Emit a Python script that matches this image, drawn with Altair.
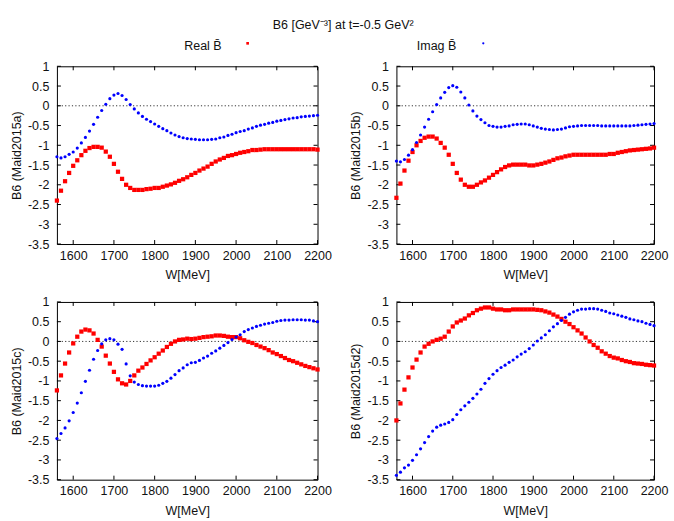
import altair as alt
import pandas as pd

W = list(range(1560, 2201, 10))

A_REAL = [-2.40, -2.15, -1.91, -1.70, -1.52, -1.38, -1.25, -1.14, -1.07, -1.04,
          -1.04, -1.06, -1.16, -1.29, -1.47, -1.67, -1.85, -2.00, -2.08, -2.13,
          -2.13, -2.13, -2.11, -2.10, -2.08, -2.08, -2.05, -2.02, -1.99, -1.95,
          -1.90, -1.86, -1.81, -1.75, -1.70, -1.64, -1.59, -1.54, -1.47, -1.41,
          -1.36, -1.32, -1.27, -1.25, -1.22, -1.19, -1.17, -1.15, -1.12, -1.12,
          -1.11, -1.10, -1.10, -1.10, -1.10, -1.10, -1.10, -1.10, -1.10, -1.10,
          -1.10, -1.10, -1.10, -1.10, -1.11]
A_IMAG = [-1.29, -1.32, -1.29, -1.23, -1.17, -1.07, -0.94, -0.80, -0.64, -0.47,
          -0.29, -0.12, 0.04, 0.18, 0.27, 0.31, 0.26, 0.16, 0.03, -0.08,
          -0.18, -0.27, -0.34, -0.40, -0.46, -0.52, -0.58, -0.63, -0.69, -0.74,
          -0.78, -0.81, -0.83, -0.84, -0.85, -0.86, -0.86, -0.86, -0.85, -0.84,
          -0.81, -0.79, -0.75, -0.72, -0.68, -0.65, -0.63, -0.59, -0.56, -0.52,
          -0.49, -0.47, -0.44, -0.42, -0.39, -0.37, -0.35, -0.33, -0.31, -0.30,
          -0.28, -0.27, -0.26, -0.25, -0.24]
B_REAL = [-2.33, -1.97, -1.64, -1.39, -1.17, -1.00, -0.89, -0.81, -0.78, -0.78,
          -0.83, -0.94, -1.06, -1.24, -1.47, -1.70, -1.87, -2.00, -2.05, -2.05,
          -2.00, -1.94, -1.89, -1.82, -1.75, -1.68, -1.61, -1.55, -1.51, -1.49,
          -1.49, -1.49, -1.49, -1.51, -1.51, -1.49, -1.47, -1.44, -1.41, -1.37,
          -1.33, -1.31, -1.28, -1.26, -1.24, -1.24, -1.24, -1.24, -1.24, -1.24,
          -1.24, -1.24, -1.24, -1.22, -1.22, -1.19, -1.17, -1.15, -1.13, -1.12,
          -1.11, -1.10, -1.09, -1.08, -1.06]
B_IMAG = [-1.40, -1.42, -1.36, -1.25, -1.11, -0.93, -0.74, -0.54, -0.34, -0.15,
          0.03, 0.20, 0.34, 0.46, 0.51, 0.47, 0.35, 0.20, 0.02, -0.13,
          -0.26, -0.35, -0.43, -0.50, -0.52, -0.54, -0.54, -0.52, -0.51, -0.48,
          -0.47, -0.46, -0.46, -0.48, -0.51, -0.54, -0.57, -0.59, -0.60, -0.61,
          -0.60, -0.59, -0.56, -0.53, -0.52, -0.51, -0.50, -0.50, -0.50, -0.50,
          -0.50, -0.51, -0.51, -0.51, -0.51, -0.51, -0.51, -0.51, -0.51, -0.50,
          -0.49, -0.48, -0.47, -0.46, -0.45]
C_REAL = [-1.24, -0.86, -0.56, -0.28, -0.05, 0.12, 0.25, 0.30, 0.28, 0.20,
          0.04, -0.13, -0.36, -0.56, -0.77, -0.96, -1.06, -1.09, -1.00, -0.86,
          -0.74, -0.66, -0.57, -0.48, -0.40, -0.31, -0.23, -0.14, -0.06, 0.00,
          0.04, 0.05, 0.07, 0.06, 0.07, 0.09, 0.11, 0.12, 0.13, 0.15,
          0.15, 0.14, 0.12, 0.11, 0.11, 0.08, 0.03, -0.01, -0.04, -0.09,
          -0.13, -0.17, -0.22, -0.28, -0.32, -0.37, -0.42, -0.47, -0.50, -0.54,
          -0.58, -0.62, -0.65, -0.68, -0.71]
C_IMAG = [-2.46, -2.33, -2.19, -2.01, -1.80, -1.56, -1.30, -1.01, -0.73, -0.45,
          -0.23, -0.06, 0.04, 0.07, 0.04, -0.07, -0.20, -0.57, -0.87, -1.03,
          -1.09, -1.12, -1.13, -1.13, -1.13, -1.11, -1.06, -1.01, -0.93, -0.84,
          -0.74, -0.67, -0.59, -0.54, -0.53, -0.48, -0.42, -0.37, -0.30, -0.24,
          -0.17, -0.10, -0.03, 0.05, 0.11, 0.17, 0.25, 0.30, 0.34, 0.38,
          0.41, 0.44, 0.46, 0.48, 0.51, 0.53, 0.54, 0.54, 0.55, 0.55,
          0.55, 0.54, 0.54, 0.52, 0.50]
D_REAL = [-2.00, -1.57, -1.22, -0.91, -0.66, -0.46, -0.28, -0.13, -0.06, 0.00,
          0.04, 0.07, 0.12, 0.25, 0.38, 0.48, 0.53, 0.58, 0.66, 0.72,
          0.79, 0.83, 0.86, 0.86, 0.83, 0.81, 0.81, 0.79, 0.79, 0.81,
          0.81, 0.81, 0.81, 0.81, 0.81, 0.80, 0.79, 0.76, 0.73, 0.68,
          0.63, 0.57, 0.50, 0.44, 0.36, 0.28, 0.20, 0.10, 0.00, -0.09,
          -0.16, -0.25, -0.31, -0.37, -0.41, -0.43, -0.47, -0.50, -0.52, -0.55,
          -0.56, -0.57, -0.59, -0.60, -0.61]
D_IMAG = [-3.39, -3.31, -3.20, -3.13, -3.01, -2.87, -2.72, -2.56, -2.41, -2.27,
          -2.17, -2.12, -2.09, -2.05, -1.98, -1.85, -1.73, -1.63, -1.54, -1.44,
          -1.33, -1.21, -1.06, -0.94, -0.83, -0.74, -0.66, -0.60, -0.53, -0.47,
          -0.39, -0.32, -0.26, -0.18, -0.09, 0.01, 0.09, 0.17, 0.27, 0.37,
          0.45, 0.53, 0.61, 0.69, 0.75, 0.79, 0.82, 0.82, 0.83, 0.83,
          0.82, 0.79, 0.76, 0.72, 0.70, 0.67, 0.64, 0.61, 0.57, 0.55,
          0.52, 0.50, 0.46, 0.43, 0.40]

XTICKS = [1600, 1700, 1800, 1900, 2000, 2100, 2200]
YTICKS = [-3.5, -3, -2.5, -2, -1.5, -1, -0.5, 0, 0.5, 1]
XDOMAIN = [1560, 2200]
YDOMAIN = [-3.5, 1]
LEGEND = ["Real B\u0304", "Imag B\u0304"]
YTITLES = ["B6 (Maid2015a)", "B6 (Maid2015b)", "B6 (Maid2015c)", "B6 (Maid2015d2)"]
XTITLE = "W[MeV]"
TITLE = "B6 [GeV\u207b\u00b3] at t=-0.5 GeV\u00b2"

FONT = "Liberation Sans"
FS = 12.5
RED = "#ff0000"
BLUE = "#0000ff"
H = 178
TL = 4


def panel(real, imag, ytitle, w, legend=None):
    df = pd.DataFrame({"W": W, "Real": real, "Imag": imag})
    xs = alt.Scale(domain=XDOMAIN, nice=False, zero=False)
    ys = alt.Scale(domain=YDOMAIN, nice=False, zero=False)
    xax = alt.Axis(values=XTICKS, title=XTITLE, labelExpr="'' + datum.value",
                   ticks=False, tickSize=0, domain=False, grid=False,
                   labelPadding=5, titlePadding=7, labelFlush=False)
    yax = alt.Axis(values=YTICKS, title=ytitle, labelExpr="'' + datum.value",
                   ticks=False, tickSize=0, domain=False, grid=False,
                   labelPadding=8, titlePadding=4)
    X = lambda f: alt.X(f, scale=xs, axis=xax)
    Y = lambda f: alt.Y(f, scale=ys, axis=yax)

    zero = alt.Chart(pd.DataFrame({"z": [0]})).mark_rule(
        color="black", strokeDash=[1.2, 2.2], strokeWidth=0.8).encode(y=Y("z:Q"))
    xt = alt.Chart(pd.DataFrame({"t": XTICKS}))
    yt = alt.Chart(pd.DataFrame({"t": YTICKS}))
    tk = dict(color="black", strokeWidth=1)
    ticks = [
        xt.mark_rule(**tk).encode(x=X("t:Q"), y=alt.value(0), y2=alt.value(TL)),
        xt.mark_rule(**tk).encode(x=X("t:Q"), y=alt.value(H), y2=alt.value(H - TL)),
        yt.mark_rule(**tk).encode(y=Y("t:Q"), x=alt.value(0), x2=alt.value(TL)),
        yt.mark_rule(**tk).encode(y=Y("t:Q"), x=alt.value(w), x2=alt.value(w - TL)),
    ]
    base = alt.Chart(df)
    real_pts = base.mark_square(size=18, color=RED, opacity=1).encode(
        x=X("W:Q"), y=Y("Real:Q"))
    imag_pts = base.mark_circle(size=10, color=BLUE, opacity=1).encode(
        x=X("W:Q"), y=Y("Imag:Q"))
    layers = [zero] + ticks + [real_pts, imag_pts]
    if legend is not None:
        text, tx, mx, shape, color = legend
        lt = alt.Chart(pd.DataFrame({"label": [text]}))
        layers.append(lt.mark_text(align="right", baseline="middle", font=FONT,
                                   fontSize=FS, color="#111").encode(
            text="label:N", x=alt.value(tx), y=alt.value(-20)))
        if shape == "square":
            m = lt.mark_square(size=7, color=color, opacity=1)
        else:
            m = lt.mark_circle(size=5, color=color, opacity=1)
        layers.append(m.encode(x=alt.value(mx), y=alt.value(-23)))
    return alt.layer(*layers).properties(width=w, height=H)


pa = panel(A_REAL, A_IMAG, YTITLES[0], 261, (LEGEND[0], 165, 191, "square", RED))
pb = panel(B_REAL, B_IMAG, YTITLES[1], 258, (LEGEND[1], 60, 87, "circle", BLUE))
pc = panel(C_REAL, C_IMAG, YTITLES[2], 261)
pdd = panel(D_REAL, D_IMAG, YTITLES[3], 258)

chart = alt.vconcat(
    alt.hconcat(pa, pb, spacing=16),
    alt.hconcat(pc, pdd, spacing=16),
    spacing=13,
).properties(
    title=alt.TitleParams(TITLE, anchor="middle", fontSize=FS, fontWeight="normal",
                          font=FONT, color="#111", offset=8, dx=4),
    padding={"left": 9, "top": 19, "right": 5, "bottom": 5},
    background="white",
).configure_view(
    stroke="black", strokeWidth=1
).configure_axis(
    labelFont=FONT, titleFont=FONT, labelFontSize=FS, titleFontSize=FS,
    labelColor="#111", titleColor="#111", titleFontWeight="normal"
)

chart.save("out.html", embed_options={"renderer": "svg", "actions": False})
